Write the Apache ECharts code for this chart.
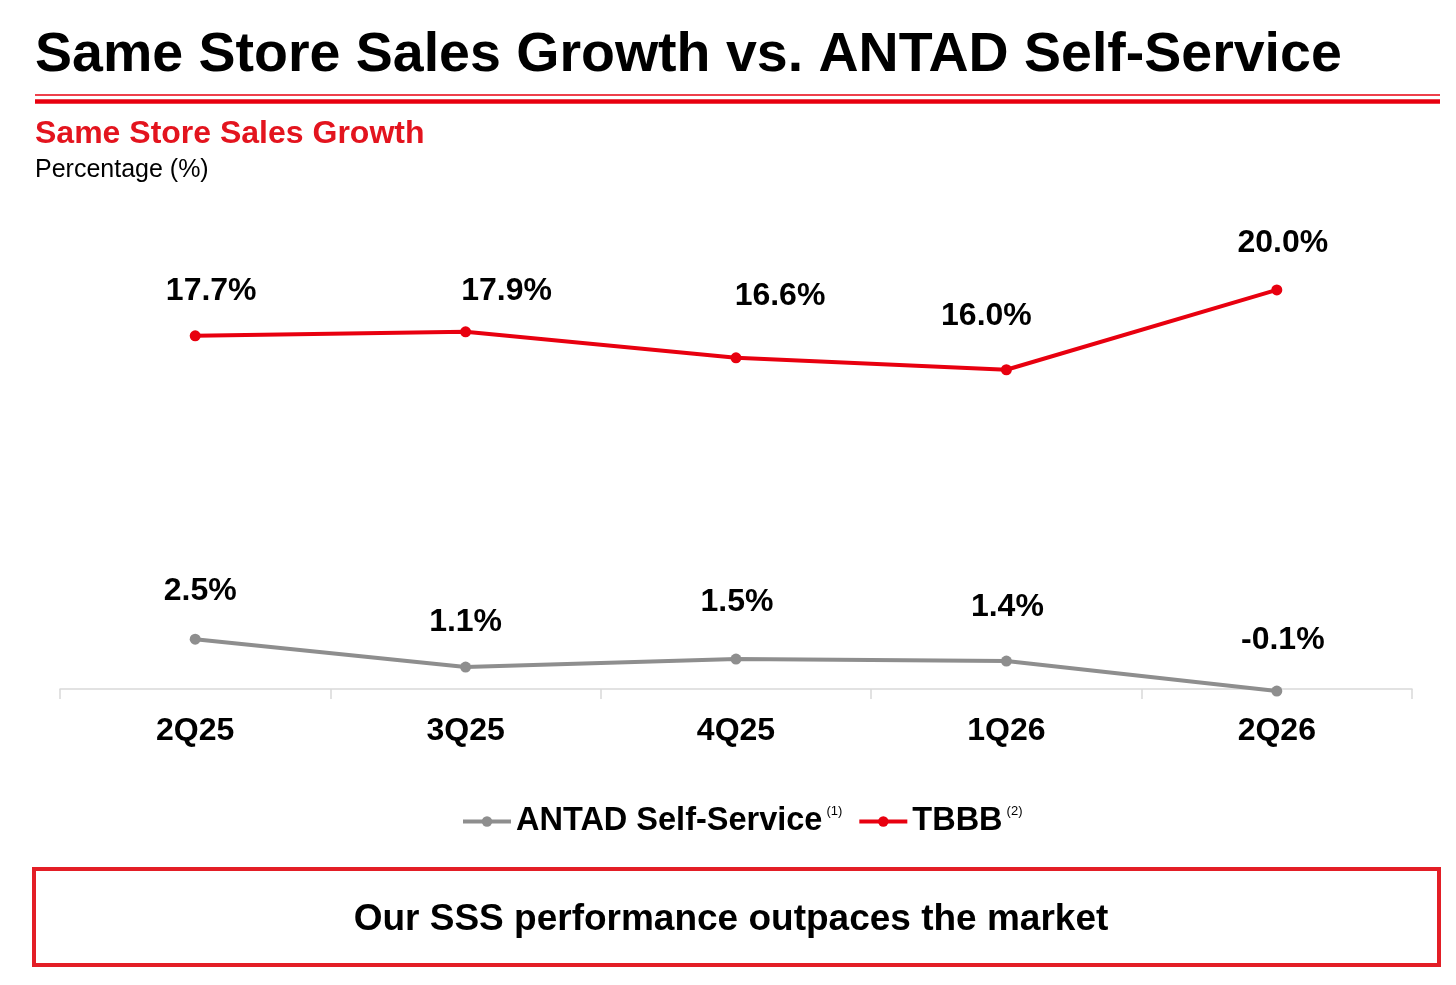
<!doctype html>
<html lang="en">
<head>
<meta charset="UTF-8">
<title>Same Store Sales Growth vs. ANTAD Self-Service</title>
<script src="https://cdn.jsdelivr.net/npm/echarts@6/dist/echarts.min.js"></script>
<style>
  html, body { margin: 0; padding: 0; background: #fff; }
  #main { width: 1456px; height: 985px; }
</style>
</head>
<body>
<div id="main"></div>
<script type="text/javascript">
// quarters and SSS growth (%)
var quarters = ['2Q25', '3Q25', '4Q25', '1Q26', '2Q26'];
var antadValues = [2.5, 1.1, 1.5, 1.4, -0.1];
var tbbbValues = [17.7, 17.9, 16.6, 16.0, 20.0];

// label nudges, the source slide had them placed by hand
var antadLabelShift = [[5, -21], [0, -18], [1, -30], [1, -27], [6, -24]];
var tbbbLabelShift = [[16, -18], [41, -14], [44, -35], [-20, -27], [6, -20]];

var FONT = '"Liberation Sans", Arial, sans-serif';
var RED = '#e8000f';
var GREY = '#8e8e8e';

function withLabels(values, shifts) {
    return values.map(function (v, i) {
        return { value: v, label: { offset: shifts[i] } };
    });
}

var myChart = echarts.init(document.getElementById('main'));

var labelStyle = {
    show: true,
    position: 'top',
    distance: 5,
    color: '#000',
    fontFamily: FONT,
    fontWeight: 'bold',
    fontSize: 32,
    formatter: function (p) { return p.value.toFixed(1) + '%'; }
};

var option = {
    backgroundColor: '#fff',
    animation: false,
    graphic: [
        { type: 'text', x: 35, y: 56,
          style: { text: 'Same Store Sales Growth vs. ANTAD Self-Service', fill: '#000',
                   font: 'bold 55.5px ' + FONT, verticalAlign: 'middle' } },
        { type: 'line', shape: { x1: 35, y1: 95, x2: 1440, y2: 95 },
          style: { stroke: RED, lineWidth: 1.5 } },
        { type: 'line', shape: { x1: 35, y1: 101.5, x2: 1440, y2: 101.5 },
          style: { stroke: RED, lineWidth: 4.5 } },
        { type: 'text', x: 35, y: 134,
          style: { text: 'Same Store Sales Growth', fill: '#e3141e',
                   font: 'bold 32px ' + FONT, verticalAlign: 'middle' } },
        { type: 'text', x: 35, y: 170,
          style: { text: 'Percentage (%)', fill: '#000',
                   font: '25px ' + FONT, verticalAlign: 'middle' } },
        { type: 'rect', shape: { x: 34, y: 869, width: 1405, height: 96 },
          style: { fill: '#fff', stroke: '#e31e26', lineWidth: 4 } },
        { type: 'text', x: 731, y: 920,
          style: { text: 'Our SSS performance outpaces the market', fill: '#000',
                   font: 'bold 37px ' + FONT, align: 'center', verticalAlign: 'middle' } }
    ],
    legend: {
        left: 456,
        top: 800,
        itemWidth: 48,
        itemHeight: 13,
        itemGap: 15,
        lineStyle: { width: 4 },
        formatter: function (name) {
            var sup = name === 'TBBB' ? '(2)' : '(1)';
            return '{n|' + name + '}{s|' + sup + '}';
        },
        textStyle: {
            rich: {
                n: { fontFamily: FONT, fontWeight: 'bold', fontSize: 32.5, color: '#000', padding: [0, 4, 0, 0] },
                s: { fontFamily: FONT, fontSize: 13, color: '#000', verticalAlign: 'top', padding: [0, 0, 16, 0] }
            }
        },
        data: ['ANTAD Self-Service', 'TBBB']
    },
    grid: { left: 60, right: 44, top: 250, bottom: 276 },
    xAxis: {
        type: 'category',
        data: quarters,
        boundaryGap: true,
        axisLine: { onZero: true, lineStyle: { color: '#d9d9d9', width: 1.5 } },
        axisTick: { show: true, length: 10, lineStyle: { color: '#d9d9d9', width: 1.5 } },
        axisLabel: { margin: 6, color: '#000', fontFamily: FONT, fontWeight: 'bold', fontSize: 32 },
        splitLine: { show: false }
    },
    yAxis: {
        type: 'value',
        min: -1,
        max: 22,
        show: false,
        splitLine: { show: false }
    },
    series: [
        {
            name: 'ANTAD Self-Service',
            type: 'line',
            data: withLabels(antadValues, antadLabelShift),
            symbol: 'circle',
            symbolSize: 11,
            itemStyle: { color: GREY },
            lineStyle: { color: GREY, width: 4 },
            label: labelStyle
        },
        {
            name: 'TBBB',
            type: 'line',
            data: withLabels(tbbbValues, tbbbLabelShift),
            symbol: 'circle',
            symbolSize: 11,
            itemStyle: { color: RED },
            lineStyle: { color: RED, width: 4 },
            label: labelStyle
        }
    ]
};

myChart.setOption(option);
</script>
</body>
</html>
